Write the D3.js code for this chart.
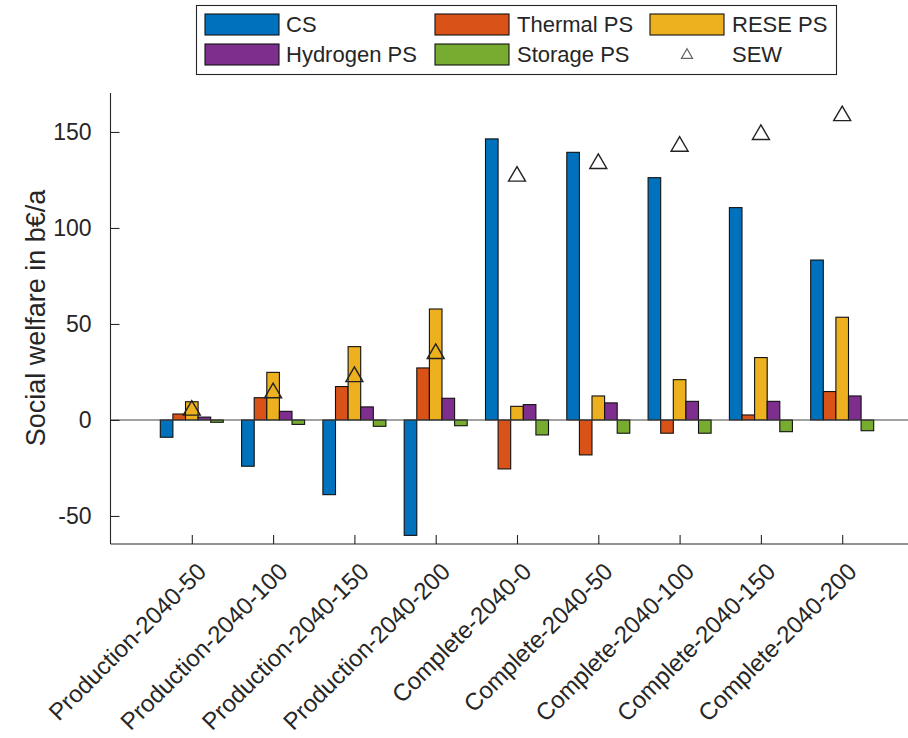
<!DOCTYPE html>
<html>
<head>
<meta charset="utf-8">
<script src="https://cdn.jsdelivr.net/npm/d3@7"></script>
<style>
  html, body { margin: 0; padding: 0; background: #fff; }
  svg { display: block; font-family: "Liberation Sans", Arial, Helvetica, sans-serif; }
</style>
</head>
<body>
<svg id="chart" width="908" height="738"></svg>
<script>
// ---- data ----
const categories = [
  "Production-2040-50", "Production-2040-100", "Production-2040-150", "Production-2040-200",
  "Complete-2040-0", "Complete-2040-50", "Complete-2040-100", "Complete-2040-150", "Complete-2040-200"
];
const seriesNames = ["CS", "Thermal PS", "RESE PS", "Hydrogen PS", "Storage PS"];
const cs       = [-9.0, -24.1, -38.9, -60.1, 146.4, 139.4, 126.2, 110.6, 83.3];
const thermal  = [3.1, 11.6, 17.4, 27.1, -25.5, -18.2, -6.9, 2.6, 14.8];
const rese     = [9.5, 24.8, 38.2, 57.8, 7.1, 12.5, 21.0, 32.5, 53.5];
const hydrogen = [1.5, 4.5, 6.8, 11.3, 8.0, 8.9, 9.7, 9.7, 12.5];
const storage  = [-1.2, -2.3, -3.3, -3.0, -7.8, -6.9, -6.9, -6.1, -5.6];
const sew      = [6.3, 15.4, 23.8, 35.8, 128.2, 134.8, 143.8, 149.9, 159.7];
const yTicks   = [-50, 0, 50, 100, 150];
const colors   = ["#0072BD", "#D95319", "#EDB120", "#7E2F8E", "#77AC30"];

const series = [cs, thermal, rese, hydrogen, storage];

// ---- layout ----
const svg = d3.select("#chart");
const axisColor = "#262626";
const plotLeft = 110.5, plotBottom = 544, plotTop = 93;

const x = d3.scaleLinear().domain([0, 10]).range([plotLeft, 923.5]);
const y = d3.scaleLinear().domain([-64.6, 170.3]).range([plotBottom, plotTop]);

const barW = 0.155; // in category units

// bars
series.forEach((vals, j) => {
  svg.append("g").selectAll("rect")
    .data(vals)
    .join("rect")
    .attr("x", (d, i) => x(i + 1 + (j - 2.5) * barW))
    .attr("width", x(barW) - x(0))
    .attr("y", d => y(Math.max(0, d)))
    .attr("height", d => Math.abs(y(d) - y(0)))
    .attr("fill", colors[j])
    .attr("stroke", "#111")
    .attr("stroke-width", 1.1);
});

// zero baseline
svg.append("line")
  .attr("x1", plotLeft).attr("x2", 908)
  .attr("y1", y(0)).attr("y2", y(0))
  .attr("stroke", "#444").attr("stroke-width", 1.1);

// SEW markers (triangles)
const triPath = (hw, hh) => `M0,${-hh}L${hw},${hh}L${-hw},${hh}Z`;
svg.append("g").selectAll("path")
  .data(sew)
  .join("path")
  .attr("transform", (d, i) => `translate(${x(i + 1)},${y(d)})`)
  .attr("d", triPath(8.5, 7.3))
  .attr("fill", "none")
  .attr("stroke", "#222")
  .attr("stroke-width", 1.4);

// y axis
const yAxis = d3.axisLeft(y).tickValues(yTicks).tickSize(-9).tickPadding(19).tickFormat(d => String(d));
const gy = svg.append("g").attr("transform", `translate(${plotLeft},0)`).call(yAxis);
gy.select(".domain").attr("d", `M0,${plotTop}V${plotBottom}`).attr("stroke", axisColor).attr("stroke-width", 1.1);
gy.selectAll(".tick line").attr("stroke", axisColor).attr("stroke-width", 1.1);
gy.selectAll(".tick text").attr("fill", axisColor).attr("font-size", 23)
  .attr("font-family", "Liberation Sans, Arial, sans-serif");

// x axis
const xAxis = d3.axisBottom(x).tickValues(d3.range(1, 10)).tickSize(-9).tickFormat("");
const gx = svg.append("g").attr("transform", `translate(0,${plotBottom})`).call(xAxis);
gx.select(".domain").attr("d", `M${plotLeft},0H908`).attr("stroke", axisColor).attr("stroke-width", 1.1);
gx.selectAll(".tick line").attr("stroke", axisColor).attr("stroke-width", 1.1);

// x tick labels rotated
svg.append("g").selectAll("text")
  .data(categories)
  .join("text")
  .attr("transform", (d, i) => `translate(${x(i + 1) + 10},567) rotate(-45)`)
  .attr("text-anchor", "end")
  .attr("dominant-baseline", "central")
  .attr("font-size", 24)
  .attr("fill", axisColor)
  .text(d => d);

// y label
svg.append("text")
  .attr("transform", `translate(36,318) rotate(-90)`)
  .attr("text-anchor", "middle")
  .attr("dominant-baseline", "central")
  .attr("font-size", 27)
  .attr("fill", axisColor)
  .text("Social welfare in b€/a");

// legend
const lg = svg.append("g");
lg.append("rect")
  .attr("x", 196.5).attr("y", 5.5).attr("width", 640).attr("height", 69)
  .attr("fill", "#fff").attr("stroke", "#262626").attr("stroke-width", 1.1);

const legendItems = [
  { name: "CS", type: "bar", c: 0, col: 0, row: 0 },
  { name: "Thermal PS", type: "bar", c: 1, col: 1, row: 0 },
  { name: "RESE PS", type: "bar", c: 2, col: 2, row: 0 },
  { name: "Hydrogen PS", type: "bar", c: 3, col: 0, row: 1 },
  { name: "Storage PS", type: "bar", c: 4, col: 1, row: 1 },
  { name: "SEW", type: "marker", col: 2, row: 1 }
];
const colX = [205, 435, 650];
const textX = [286, 517, 732];
const rowY = [24.5, 54.5];
legendItems.forEach(it => {
  const cx = colX[it.col], cy = rowY[it.row];
  if (it.type === "bar") {
    lg.append("rect")
      .attr("x", cx).attr("y", cy - 10.5).attr("width", 74).attr("height", 21)
      .attr("fill", colors[it.c]).attr("stroke", "#111").attr("stroke-width", 1.1);
  } else {
    lg.append("path")
      .attr("transform", `translate(${cx + 37},${cy - 1})`)
      .attr("d", triPath(5.5, 4.8))
      .attr("fill", "none").attr("stroke", "#666").attr("stroke-width", 1.3);
  }
  lg.append("text")
    .attr("x", textX[it.col]).attr("y", cy)
    .attr("dominant-baseline", "central")
    .attr("font-size", 22)
    .attr("fill", "#262626")
    .text(it.name);
});
</script>
</body>
</html>
